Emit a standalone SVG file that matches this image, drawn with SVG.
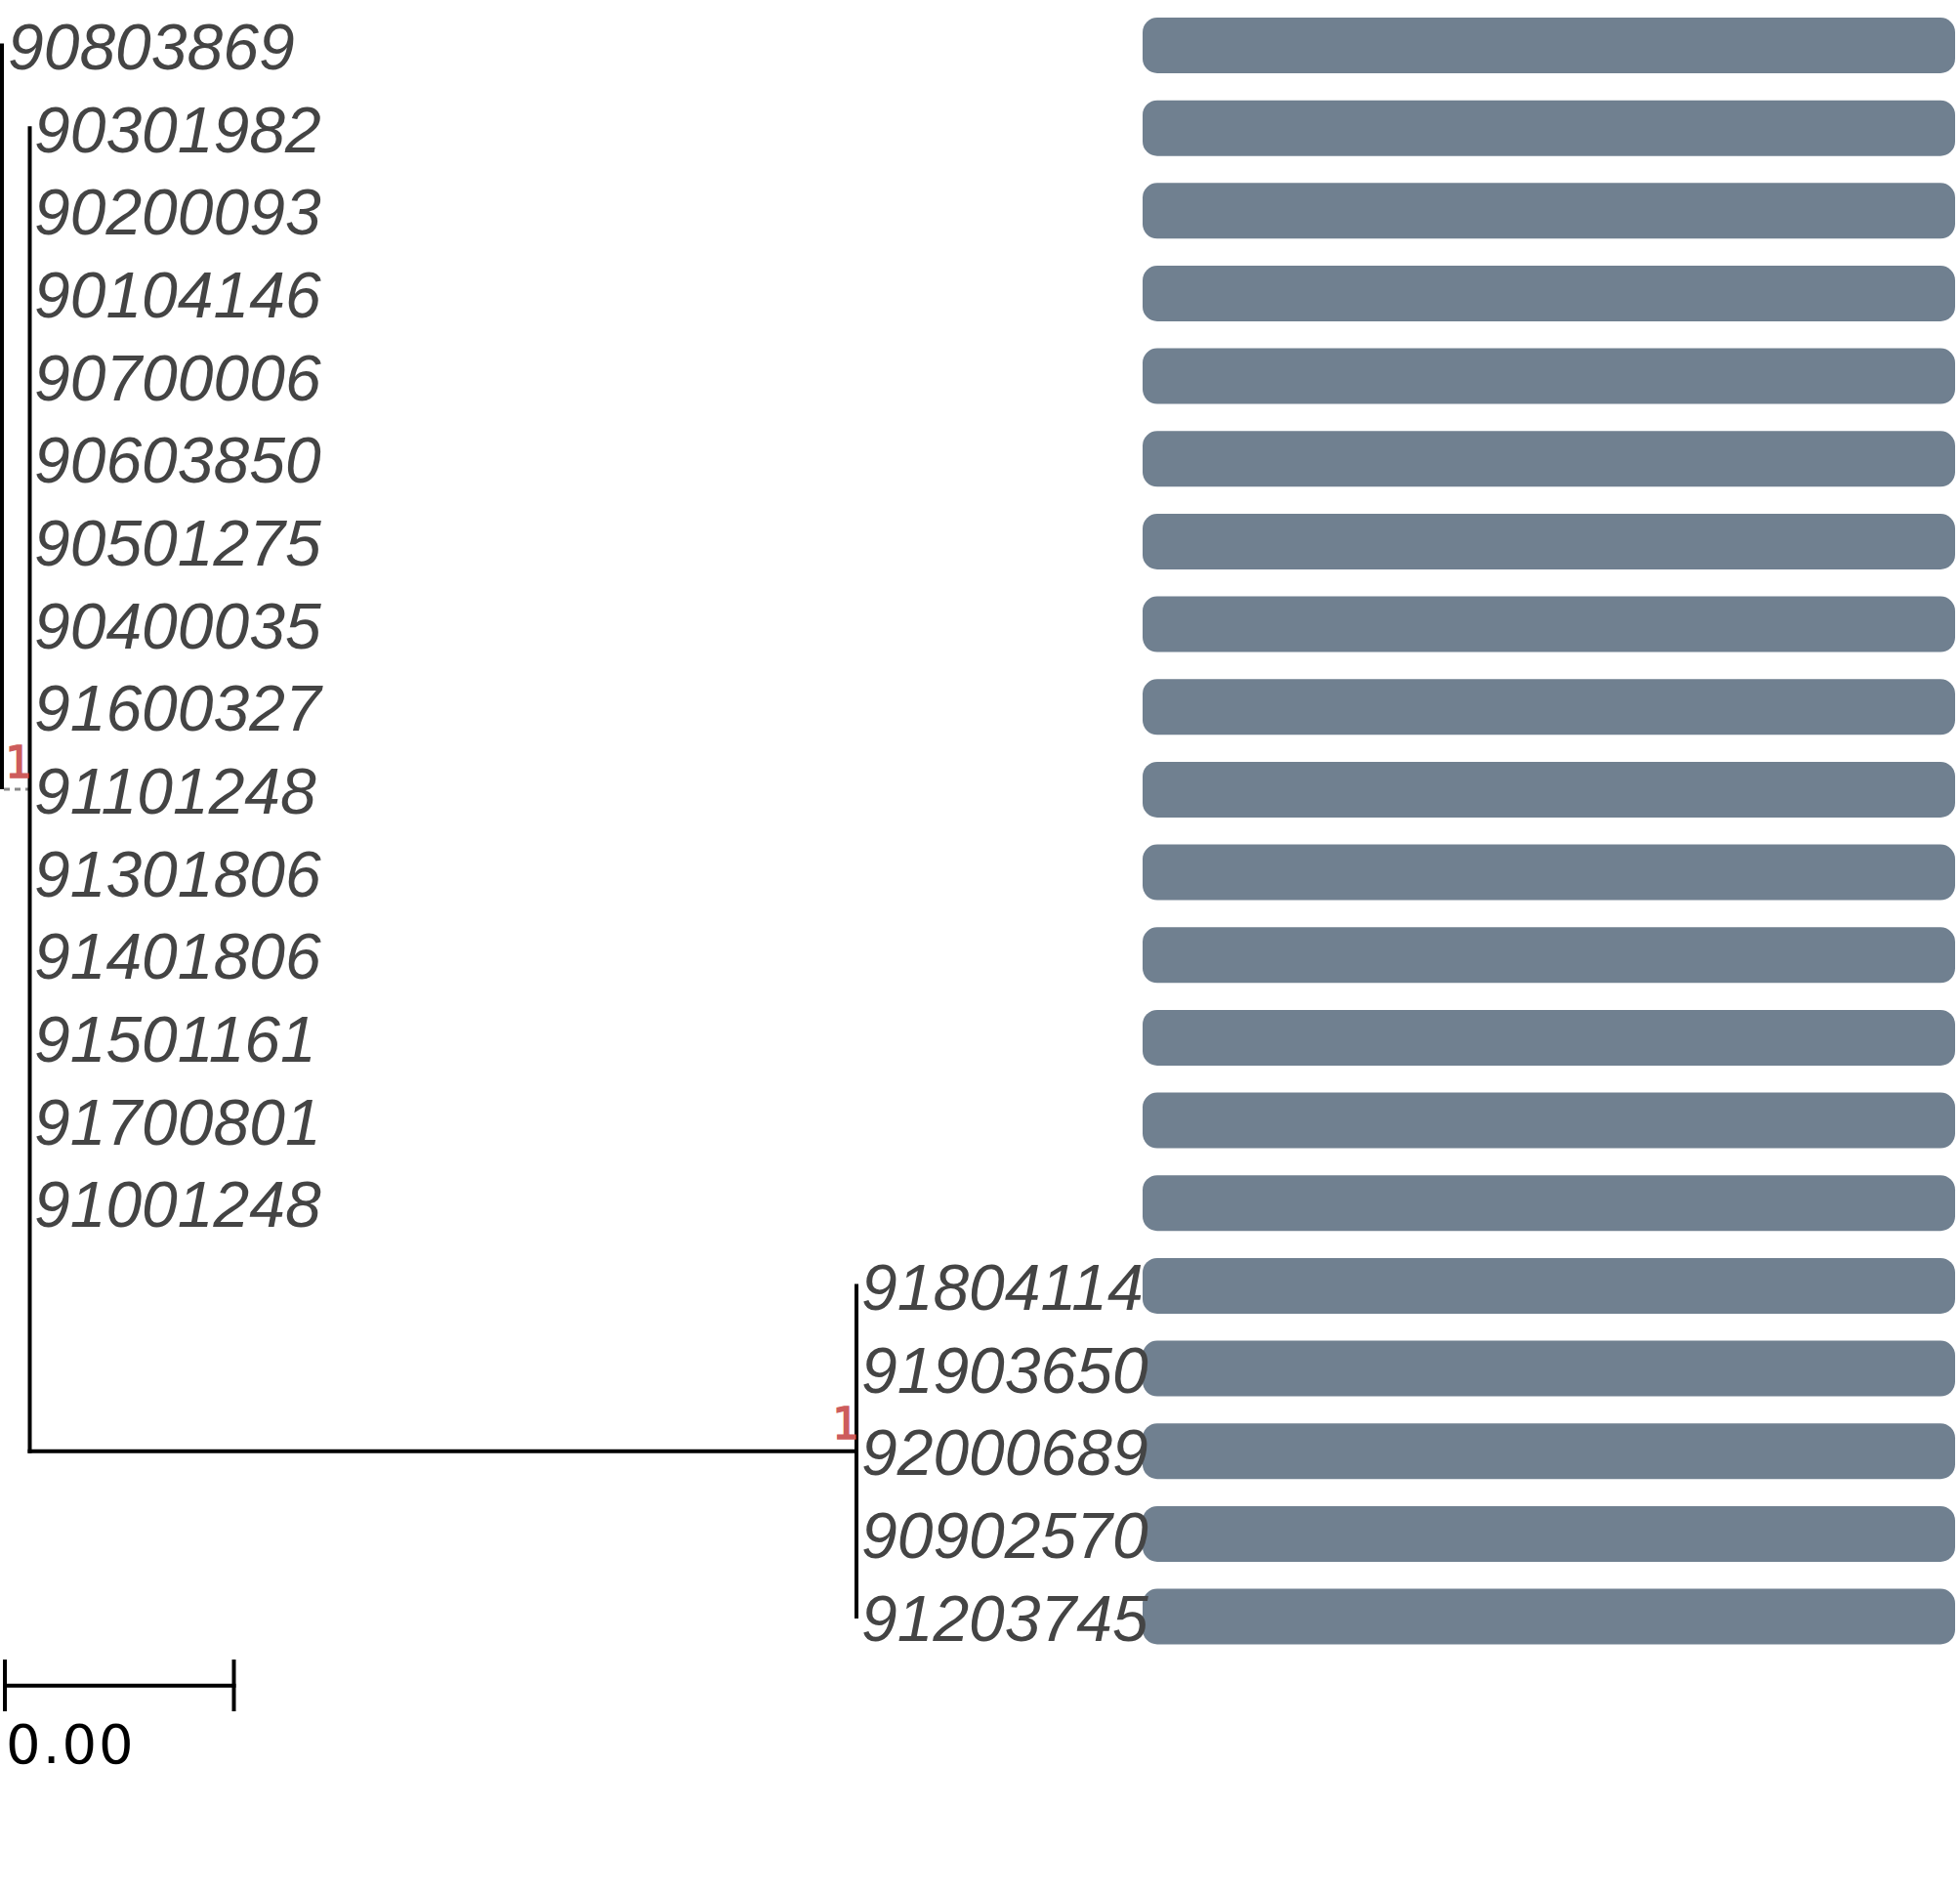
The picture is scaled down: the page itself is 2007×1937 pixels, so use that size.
<svg xmlns="http://www.w3.org/2000/svg" width="2007" height="1937" viewBox="0 0 2007 1937">
<style>
.lbl{font-family:"Liberation Sans",Arial,sans-serif;font-style:italic;font-size:66px;fill:#444444}
.bar{fill:#708090}
.br{stroke:#000;stroke-width:4;fill:none;stroke-linecap:square}
.sup{font-family:"DejaVu Sans Mono",monospace;font-size:44px;fill:#CD5C5C;stroke:#CD5C5C;stroke-width:1.5px}
.scale{font-family:"DejaVu Sans",sans-serif;font-size:56px;letter-spacing:2px;fill:#000}
</style>
<rect width="2007" height="1937" fill="#fff"/>
<g id="connectors">
<line class="br" x1="2" y1="46.5" x2="2" y2="806"/>
<line x1="4" y1="808" x2="29" y2="808" stroke="#888" stroke-width="3" stroke-dasharray="6,5"/>
<line class="br" x1="30.5" y1="131.2" x2="30.5" y2="1485.7"/>
<line class="br" x1="30.5" y1="1485.7" x2="877" y2="1485.7"/>
<line class="br" x1="877" y1="1316.4" x2="877" y2="1655"/>
</g>
<g id="support">
<text class="sup" x="5" y="796">1</text>
<text class="sup" x="852" y="1473">1</text>
</g>
<g id="leaf-90803869"><rect class="bar" x="1170" y="18" width="832" height="57" rx="15"/><text class="lbl" x="8" y="71">90803869</text></g>
<g id="leaf-90301982"><rect class="bar" x="1170" y="102.7" width="832" height="57" rx="15"/><text class="lbl" x="35" y="155.7">90301982</text></g>
<g id="leaf-90200093"><rect class="bar" x="1170" y="187.3" width="832" height="57" rx="15"/><text class="lbl" x="35" y="240.3">90200093</text></g>
<g id="leaf-90104146"><rect class="bar" x="1170" y="272" width="832" height="57" rx="15"/><text class="lbl" x="35" y="325">90104146</text></g>
<g id="leaf-90700006"><rect class="bar" x="1170" y="356.6" width="832" height="57" rx="15"/><text class="lbl" x="35" y="409.6">90700006</text></g>
<g id="leaf-90603850"><rect class="bar" x="1170" y="441.3" width="832" height="57" rx="15"/><text class="lbl" x="35" y="494.3">90603850</text></g>
<g id="leaf-90501275"><rect class="bar" x="1170" y="526" width="832" height="57" rx="15"/><text class="lbl" x="35" y="579">90501275</text></g>
<g id="leaf-90400035"><rect class="bar" x="1170" y="610.6" width="832" height="57" rx="15"/><text class="lbl" x="35" y="663.6">90400035</text></g>
<g id="leaf-91600327"><rect class="bar" x="1170" y="695.3" width="832" height="57" rx="15"/><text class="lbl" x="35" y="748.3">91600327</text></g>
<g id="leaf-91101248"><rect class="bar" x="1170" y="779.9" width="832" height="57" rx="15"/><text class="lbl" x="35" y="832.9">91101248</text></g>
<g id="leaf-91301806"><rect class="bar" x="1170" y="864.6" width="832" height="57" rx="15"/><text class="lbl" x="35" y="917.6">91301806</text></g>
<g id="leaf-91401806"><rect class="bar" x="1170" y="949.3" width="832" height="57" rx="15"/><text class="lbl" x="35" y="1002.3">91401806</text></g>
<g id="leaf-91501161"><rect class="bar" x="1170" y="1033.9" width="832" height="57" rx="15"/><text class="lbl" x="35" y="1086.9">91501161</text></g>
<g id="leaf-91700801"><rect class="bar" x="1170" y="1118.6" width="832" height="57" rx="15"/><text class="lbl" x="35" y="1171.6">91700801</text></g>
<g id="leaf-91001248"><rect class="bar" x="1170" y="1203.2" width="832" height="57" rx="15"/><text class="lbl" x="35" y="1256.2">91001248</text></g>
<g id="leaf-91804114"><rect class="bar" x="1170" y="1287.9" width="832" height="57" rx="15"/><text class="lbl" x="882" y="1340.9">91804114</text></g>
<g id="leaf-91903650"><rect class="bar" x="1170" y="1372.6" width="832" height="57" rx="15"/><text class="lbl" x="882" y="1425.6">91903650</text></g>
<g id="leaf-92000689"><rect class="bar" x="1170" y="1457.2" width="832" height="57" rx="15"/><text class="lbl" x="882" y="1510.2">92000689</text></g>
<g id="leaf-90902570"><rect class="bar" x="1170" y="1541.9" width="832" height="57" rx="15"/><text class="lbl" x="882" y="1594.9">90902570</text></g>
<g id="leaf-91203745"><rect class="bar" x="1170" y="1626.5" width="832" height="57" rx="15"/><text class="lbl" x="882" y="1679.5">91203745</text></g>
<g id="scalebar">
<line class="br" x1="5" y1="1725.7" x2="239.5" y2="1725.7" stroke-linecap="butt"/>
<line class="br" x1="5" y1="1701" x2="5" y2="1750" stroke-linecap="butt"/>
<line class="br" x1="239.5" y1="1701" x2="239.5" y2="1750" stroke-linecap="butt"/>
<text class="scale" x="6" y="1805">0.00</text>
</g>
</svg>
